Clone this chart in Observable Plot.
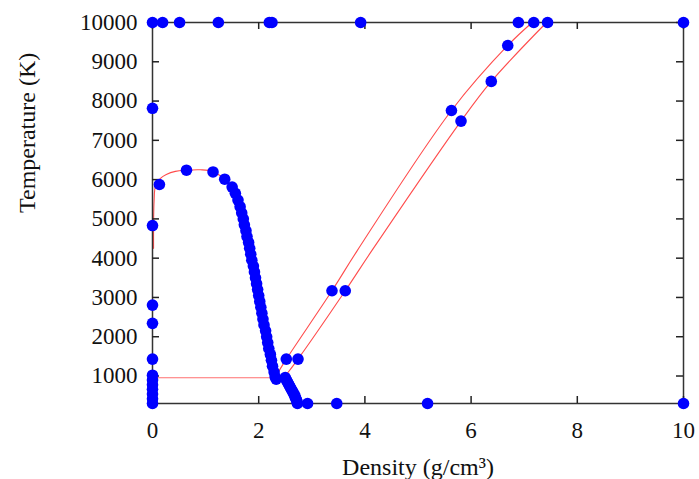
<!DOCTYPE html>
<html>
<head>
<meta charset="utf-8">
<script src="https://cdn.jsdelivr.net/npm/d3@7"></script>
<script src="https://cdn.jsdelivr.net/npm/@observablehq/plot@0.6"></script>
<style>
  html, body { margin: 0; padding: 0; background: #fff; }
  #chart { width: 699px; height: 479px; }
  #chart svg text { font-family: 'Liberation Serif', 'Times New Roman', serif !important; }
</style>
</head>
<body>
<div id="chart"></div>
<script>
// ---- Data (density g/cm3, temperature K) ----
const xTicks = [0, 2, 4, 6, 8, 10];
const yTicks = [1000, 2000, 3000, 4000, 5000, 6000, 7000, 8000, 9000, 10000];
const xLabel = "Density (g/cm³)";
const yLabel = "Temperature (K)";

// points along T = 10000 K
const topD = [0, 0.19, 0.51, 1.24, 2.2, 2.25, 3.92, 6.89, 7.18, 7.44, 10];
const topT = [10000, 10000, 10000, 10000, 10000, 10000, 10000, 10000, 10000, 10000, 10000];

// points on the zero-density axis (vapour side)
const vaporD = [0, 0, 0, 0, 0, 0, 0, 0, 0, 0, 0, 0];
const vaporT = [7815, 4830, 2805, 2340, 1430, 1020, 900, 780, 660, 540, 420, 300];

// dome top and liquid branch
const liquidD = [0.13, 0.64, 1.14, 1.36, 1.50, 1.56, 1.61, 1.65, 1.68, 1.71,
                 1.73, 1.76, 1.78, 1.81, 1.83, 1.85, 1.87, 1.90, 1.92, 1.94,
                 1.96, 1.98, 2.00, 2.02, 2.04, 2.06, 2.08, 2.10, 2.13, 2.15,
                 2.17, 2.19, 2.22, 2.24, 2.26, 2.29, 2.31, 2.33];
const liquidT = [5875, 6240, 6195, 6010, 5810, 5650, 5480, 5310, 5150, 5000,
                 4850, 4700, 4550, 4400, 4250, 4100, 3950, 3800, 3650, 3500,
                 3350, 3200, 3050, 2900, 2750, 2600, 2450, 2300, 2150, 2000,
                 1850, 1700, 1550, 1400, 1250, 1100, 980, 920];

// solid branch below the triple line
const solidD = [2.50, 2.52, 2.54, 2.56, 2.58, 2.60, 2.62, 2.64, 2.66, 2.68, 2.69, 2.71, 2.72, 2.73];
const solidT = [960, 900, 850, 800, 750, 700, 650, 600, 550, 500, 450, 400, 350, 300];

// points along T = 300 K
const bottomD = [2.92, 3.47, 5.18, 10];
const bottomT = [300, 300, 300, 300];

// points on the two melting lines
const meltPtsD = [2.52, 2.74, 3.38, 3.63, 5.63, 5.81, 6.38, 6.69];
const meltPtsT = [1430, 1430, 3170, 3170, 7760, 7490, 8500, 9415];

// red fitted curves
const domeLineD = [0.02, 0.03, 0.06, 0.15, 0.26, 0.43, 0.64, 0.9, 1.13, 1.36, 1.50, 1.65, 1.81, 1.98, 2.15, 2.31];
const domeLineT = [4250, 5450, 5860, 6030, 6130, 6210, 6240, 6250, 6210, 6010, 5810, 5310, 4400, 3200, 2000, 980];
const tripleD = [0, 2.32];
const tripleT = [956, 956];
const meltAD = [2.36, 2.52, 3.38, 3.85, 5.63, 6.69, 7.15];
const meltAT = [1080, 1430, 3170, 4180, 7760, 9415, 10000];
const meltBD = [2.50, 2.74, 3.63, 4.14, 5.81, 6.38, 7.42];
const meltBT = [1000, 1430, 3170, 4210, 7490, 8500, 10000];

// ---- build tables ----
const pairs = (D, T) => D.map((d, i) => ({d, t: T[i]}));
const points = [
  ...pairs(topD, topT), ...pairs(vaporD, vaporT), ...pairs(liquidD, liquidT),
  ...pairs(solidD, solidT), ...pairs(bottomD, bottomT), ...pairs(meltPtsD, meltPtsT)
];

const xDomain = [0, 10];
const yDomain = [300, 10000];
const red = "#ff4c4c";
const fontSize = 23;
const serif = "'Liberation Serif', 'Times New Roman', serif";
const tickLen = 7;
const tickStroke = {stroke: "#222", strokeWidth: 1.5};

const chart = Plot.plot({
  width: 699,
  height: 479,
  marginLeft: 152,
  marginRight: 16,
  marginTop: 22,
  marginBottom: 76,
  style: {fontFamily: serif, fontSize: fontSize + "px", color: "#111", background: "#fff"},
  x: {domain: xDomain},
  y: {domain: yDomain},
  marks: [
    // curves
    Plot.line(pairs(domeLineD, domeLineT), {x: "d", y: "t", stroke: red, strokeWidth: 1.1, curve: "catmull-rom"}),
    Plot.line(pairs(tripleD, tripleT), {x: "d", y: "t", stroke: red, strokeWidth: 1.1, strokeOpacity: 0.8}),
    Plot.line(pairs(meltAD, meltAT), {x: "d", y: "t", stroke: red, strokeWidth: 1.1, curve: "catmull-rom"}),
    Plot.line(pairs(meltBD, meltBT), {x: "d", y: "t", stroke: red, strokeWidth: 1.1, curve: "catmull-rom"}),
    // frame
    Plot.frame({stroke: "#333", strokeWidth: 1.5}),
    // inward tick marks on all four sides (zero-length rules extended by negative insets)
    Plot.ruleX(xTicks, {x: d => d, y1: yDomain[0], y2: yDomain[0], insetTop: -tickLen, ...tickStroke}),
    Plot.ruleX(xTicks, {x: d => d, y1: yDomain[1], y2: yDomain[1], insetBottom: -tickLen, ...tickStroke}),
    Plot.ruleY(yTicks, {y: d => d, x1: xDomain[0], x2: xDomain[0], insetRight: -tickLen, ...tickStroke}),
    Plot.ruleY(yTicks, {y: d => d, x1: xDomain[1], x2: xDomain[1], insetLeft: -tickLen, ...tickStroke}),
    // tick labels
    Plot.axisX({anchor: "bottom", ticks: xTicks, tickSize: 0, tickPadding: 18, label: null,
                tickFormat: d => String(d), fontSize, fontFamily: serif, fill: "#111"}),
    Plot.axisY({anchor: "left", ticks: yTicks, tickSize: 0, tickPadding: 15, label: null,
                tickFormat: d => String(d), fontSize, fontFamily: serif, fill: "#111"}),
    // axis titles
    Plot.text([xLabel], {frameAnchor: "bottom", dy: 64, fontSize: 24, fontFamily: serif, fill: "#111", lineAnchor: "middle"}),
    Plot.text([yLabel], {frameAnchor: "left", dx: -125, rotate: -90, fontSize: 24, fontFamily: serif, fill: "#111", lineAnchor: "middle"}),
    // data points
    Plot.dot(points, {x: "d", y: "t", r: 5.8, fill: "#0000ff", stroke: "none"})
  ]
});
document.getElementById("chart").appendChild(chart);
</script>
</body>
</html>
